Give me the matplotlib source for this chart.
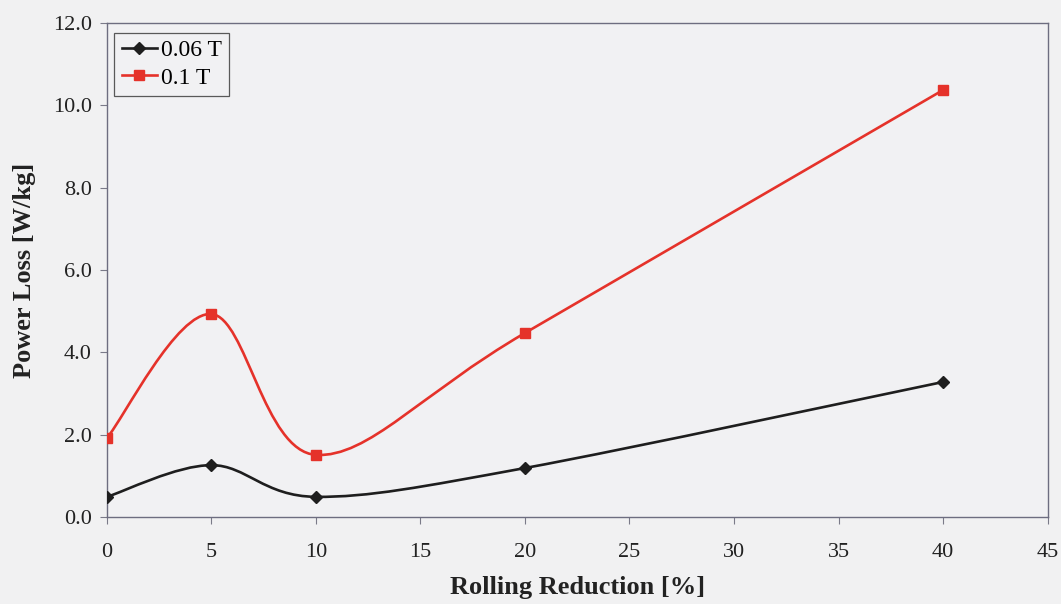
import numpy as np
import matplotlib
matplotlib.use("Agg")
import matplotlib.pyplot as plt
from matplotlib.path import Path
from matplotlib.patches import PathPatch
from matplotlib.lines import Line2D

reduction = [0, 5, 10, 20, 40]
loss_006 = [0.49, 1.26, 0.49, 1.19, 3.28]
loss_01 = [1.92, 4.93, 1.51, 4.47, 10.37]
series_labels = ["0.06 T", "0.1 T"]
xticks = [0, 5, 10, 15, 20, 25, 30, 35, 40, 45]
yticks = [0.0, 2.0, 4.0, 6.0, 8.0, 10.0, 12.0]


def smooth_path(xs, ys):
    # excel-like smoothed line: bezier segments with catmull-rom control points
    p = np.column_stack([xs, ys]).astype(float)
    pts = np.vstack([p[0], p, p[-1]])
    verts = [p[0]]
    codes = [Path.MOVETO]
    for i in range(1, len(pts) - 2):
        c1 = pts[i] + (pts[i + 1] - pts[i - 1]) / 6.0
        c2 = pts[i + 1] - (pts[i + 2] - pts[i]) / 6.0
        verts += [c1, c2, pts[i + 1]]
        codes += [Path.CURVE4] * 3
    return Path(verts, codes)


plt.rcParams['font.family'] = ['Liberation Serif', 'DejaVu Serif']

fig = plt.figure(figsize=(10.61, 6.04), dpi=100, facecolor='#f1f1f2')
ax = fig.add_axes([0.1008, 0.144, 0.8865, 0.818])
ax.set_facecolor('#f1f1f3')

black = '#1e1e1e'
red = '#e5322a'

ax.add_patch(PathPatch(smooth_path(reduction, loss_006), facecolor='none',
                       edgecolor=black, linewidth=1.9, zorder=3))
ax.add_patch(PathPatch(smooth_path(reduction, loss_01), facecolor='none',
                       edgecolor=red, linewidth=1.9, zorder=3))
ax.plot(reduction, loss_006, ls='none', marker='D', markersize=6, color=black, zorder=4)
ax.plot(reduction, loss_01, ls='none', marker='s', markersize=7, color=red, zorder=4)

ax.set_xlim(0, 45)
ax.set_ylim(0, 12)
ax.set_xticks(xticks)
ax.set_yticks(yticks)
ax.set_yticklabels(["%.1f" % v for v in yticks])
ax.tick_params(axis='both', direction='out', length=5, width=0.8, colors='#7a7a88',
               labelcolor='#222222', labelsize=16)
ax.tick_params(axis='x', pad=14)
ax.tick_params(axis='y', pad=6)
for s in ax.spines.values():
    s.set_color('#6d6d80')
    s.set_linewidth(1.0)

ax.set_xlabel("Rolling Reduction [%]", fontsize=19, fontweight='bold', color='#222222', labelpad=10)
ax.set_ylabel("Power Loss [W/kg]", fontsize=19, fontweight='bold', color='#222222', labelpad=12)

handles = [Line2D([], [], color=black, lw=1.9, marker='D', markersize=6),
           Line2D([], [], color=red, lw=1.9, marker='s', markersize=7)]
leg = ax.legend(handles, series_labels, loc='upper left', bbox_to_anchor=(0.003, 0.99),
                fontsize=17, frameon=True, fancybox=False, edgecolor='#333333',
                handlelength=1.5, handletextpad=0.15, borderpad=0.3, labelspacing=0.25,
                borderaxespad=0.2)
leg.get_frame().set_facecolor('#f1f1f3')
leg.get_frame().set_linewidth(0.9)

fig.savefig("out.png", dpi=100, facecolor=fig.get_facecolor())
